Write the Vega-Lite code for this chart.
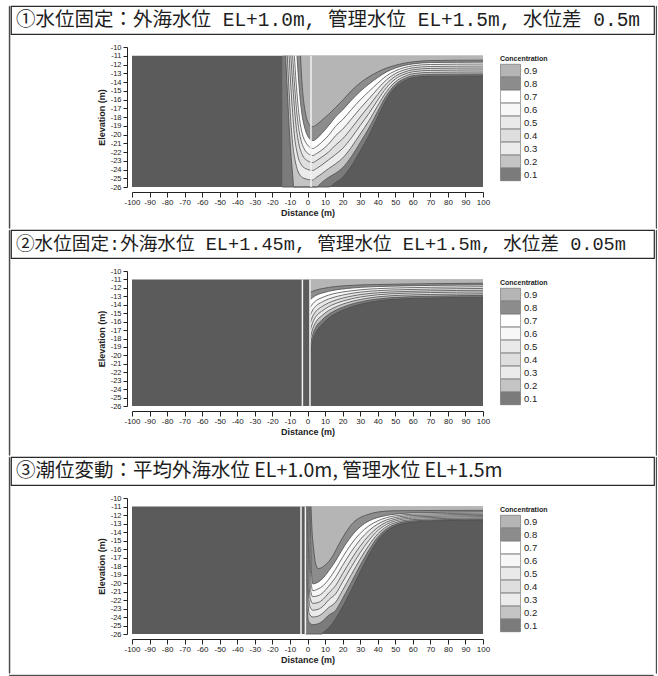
{
  "$schema": "https://vega.github.io/schema/vega-lite/v6.json",
  "padding": {"left": 8, "top": 5, "right": 0, "bottom": 0},
  "background": "white",
  "datasets": {
    "p1": [
      {"lev":"0.1","x":-14.4,"y":-26},{"lev":"0.1","x":3,"y":-26},{"lev":"0.1","x":8,"y":-26},{"lev":"0.1","x":12,"y":-26},{"lev":"0.1","x":16,"y":-25.5},{"lev":"0.1","x":20,"y":-24.9},{"lev":"0.1","x":25,"y":-23.6},{"lev":"0.1","x":30,"y":-21.9},{"lev":"0.1","x":35,"y":-20.1},{"lev":"0.1","x":40,"y":-18},{"lev":"0.1","x":45,"y":-16},{"lev":"0.1","x":50,"y":-14.6},{"lev":"0.1","x":55,"y":-13.9},{"lev":"0.1","x":60,"y":-13.5},{"lev":"0.1","x":70,"y":-13.35},{"lev":"0.1","x":100,"y":-13.3},
      {"lev":"0.2","x":-12.5,"y":-11},{"lev":"0.2","x":-11.5,"y":-15},{"lev":"0.2","x":-10.5,"y":-19},{"lev":"0.2","x":-9.5,"y":-22},{"lev":"0.2","x":-8.5,"y":-24.5},{"lev":"0.2","x":-7.8,"y":-26},{"lev":"0.2","x":3,"y":-26},{"lev":"0.2","x":5,"y":-26},{"lev":"0.2","x":8,"y":-25.5},{"lev":"0.2","x":12,"y":-24.9},{"lev":"0.2","x":16,"y":-24.43},{"lev":"0.2","x":20,"y":-23.8},{"lev":"0.2","x":25,"y":-22.53},{"lev":"0.2","x":30,"y":-20.93},{"lev":"0.2","x":35,"y":-19.26},{"lev":"0.2","x":40,"y":-17.36},{"lev":"0.2","x":45,"y":-15.55},{"lev":"0.2","x":50,"y":-14.29},{"lev":"0.2","x":55,"y":-13.64},{"lev":"0.2","x":60,"y":-13.28},{"lev":"0.2","x":70,"y":-13.13},{"lev":"0.2","x":100,"y":-13.08},
      {"lev":"0.3","x":-11.5,"y":-11},{"lev":"0.3","x":-10.5,"y":-15},{"lev":"0.3","x":-9.5,"y":-18.5},{"lev":"0.3","x":-8.5,"y":-21},{"lev":"0.3","x":-7,"y":-23},{"lev":"0.3","x":-5,"y":-24.4},{"lev":"0.3","x":-2,"y":-25},{"lev":"0.3","x":3,"y":-25.2},{"lev":"0.3","x":5,"y":-24.9},{"lev":"0.3","x":8,"y":-24.5},{"lev":"0.3","x":12,"y":-23.9},{"lev":"0.3","x":16,"y":-23.35},{"lev":"0.3","x":20,"y":-22.7},{"lev":"0.3","x":25,"y":-21.45},{"lev":"0.3","x":30,"y":-19.95},{"lev":"0.3","x":35,"y":-18.43},{"lev":"0.3","x":40,"y":-16.71},{"lev":"0.3","x":45,"y":-15.1},{"lev":"0.3","x":50,"y":-13.98},{"lev":"0.3","x":55,"y":-13.39},{"lev":"0.3","x":60,"y":-13.05},{"lev":"0.3","x":70,"y":-12.9},{"lev":"0.3","x":100,"y":-12.85},
      {"lev":"0.4","x":-10.5,"y":-11},{"lev":"0.4","x":-9.5,"y":-14.5},{"lev":"0.4","x":-8.5,"y":-17.5},{"lev":"0.4","x":-7.5,"y":-20},{"lev":"0.4","x":-6,"y":-22},{"lev":"0.4","x":-4,"y":-23.3},{"lev":"0.4","x":-1,"y":-23.9},{"lev":"0.4","x":3,"y":-24.1},{"lev":"0.4","x":5,"y":-23.9},{"lev":"0.4","x":8,"y":-23.5},{"lev":"0.4","x":12,"y":-22.9},{"lev":"0.4","x":16,"y":-22.28},{"lev":"0.4","x":20,"y":-21.6},{"lev":"0.4","x":25,"y":-20.38},{"lev":"0.4","x":30,"y":-18.98},{"lev":"0.4","x":35,"y":-17.59},{"lev":"0.4","x":40,"y":-16.07},{"lev":"0.4","x":45,"y":-14.65},{"lev":"0.4","x":50,"y":-13.66},{"lev":"0.4","x":55,"y":-13.13},{"lev":"0.4","x":60,"y":-12.83},{"lev":"0.4","x":70,"y":-12.68},{"lev":"0.4","x":100,"y":-12.63},
      {"lev":"0.5","x":-9.5,"y":-11},{"lev":"0.5","x":-8.5,"y":-14},{"lev":"0.5","x":-7.5,"y":-16.8},{"lev":"0.5","x":-6.5,"y":-19},{"lev":"0.5","x":-5,"y":-21},{"lev":"0.5","x":-3,"y":-22.3},{"lev":"0.5","x":0,"y":-23},{"lev":"0.5","x":3,"y":-23.2},{"lev":"0.5","x":5,"y":-23},{"lev":"0.5","x":8,"y":-22.6},{"lev":"0.5","x":12,"y":-22},{"lev":"0.5","x":16,"y":-21.2},{"lev":"0.5","x":20,"y":-20.5},{"lev":"0.5","x":25,"y":-19.3},{"lev":"0.5","x":30,"y":-18},{"lev":"0.5","x":35,"y":-16.75},{"lev":"0.5","x":40,"y":-15.43},{"lev":"0.5","x":45,"y":-14.2},{"lev":"0.5","x":50,"y":-13.35},{"lev":"0.5","x":55,"y":-12.88},{"lev":"0.5","x":60,"y":-12.6},{"lev":"0.5","x":70,"y":-12.45},{"lev":"0.5","x":100,"y":-12.4},
      {"lev":"0.6","x":-8.5,"y":-11},{"lev":"0.6","x":-7.5,"y":-14},{"lev":"0.6","x":-6.5,"y":-16.6},{"lev":"0.6","x":-5.5,"y":-18.6},{"lev":"0.6","x":-4,"y":-20.4},{"lev":"0.6","x":-2,"y":-21.6},{"lev":"0.6","x":0.5,"y":-22.2},{"lev":"0.6","x":3,"y":-22.4},{"lev":"0.6","x":5,"y":-22.2},{"lev":"0.6","x":8,"y":-21.8},{"lev":"0.6","x":12,"y":-21.1},{"lev":"0.6","x":16,"y":-20.13},{"lev":"0.6","x":20,"y":-19.4},{"lev":"0.6","x":25,"y":-18.23},{"lev":"0.6","x":30,"y":-17.03},{"lev":"0.6","x":35,"y":-15.91},{"lev":"0.6","x":40,"y":-14.78},{"lev":"0.6","x":45,"y":-13.75},{"lev":"0.6","x":50,"y":-13.04},{"lev":"0.6","x":55,"y":-12.62},{"lev":"0.6","x":60,"y":-12.38},{"lev":"0.6","x":70,"y":-12.23},{"lev":"0.6","x":100,"y":-12.18},
      {"lev":"0.7","x":-7.5,"y":-11},{"lev":"0.7","x":-6.5,"y":-14},{"lev":"0.7","x":-5.5,"y":-16.5},{"lev":"0.7","x":-4.5,"y":-18.3},{"lev":"0.7","x":-3,"y":-19.9},{"lev":"0.7","x":-1,"y":-20.9},{"lev":"0.7","x":1,"y":-21.4},{"lev":"0.7","x":3,"y":-21.6},{"lev":"0.7","x":5,"y":-21.4},{"lev":"0.7","x":8,"y":-20.9},{"lev":"0.7","x":12,"y":-20.1},{"lev":"0.7","x":16,"y":-19.05},{"lev":"0.7","x":20,"y":-18.3},{"lev":"0.7","x":25,"y":-17.15},{"lev":"0.7","x":30,"y":-16.05},{"lev":"0.7","x":35,"y":-15.08},{"lev":"0.7","x":40,"y":-14.14},{"lev":"0.7","x":45,"y":-13.3},{"lev":"0.7","x":50,"y":-12.73},{"lev":"0.7","x":55,"y":-12.36},{"lev":"0.7","x":60,"y":-12.15},{"lev":"0.7","x":70,"y":-12},{"lev":"0.7","x":100,"y":-11.95},
      {"lev":"0.8","x":-6,"y":-11},{"lev":"0.8","x":-5,"y":-14},{"lev":"0.8","x":-4,"y":-16.3},{"lev":"0.8","x":-3,"y":-17.9},{"lev":"0.8","x":-1.5,"y":-19.3},{"lev":"0.8","x":0.5,"y":-20.3},{"lev":"0.8","x":3,"y":-20.7},{"lev":"0.8","x":5,"y":-20.5},{"lev":"0.8","x":8,"y":-19.9},{"lev":"0.8","x":12,"y":-19},{"lev":"0.8","x":16,"y":-17.98},{"lev":"0.8","x":20,"y":-17.2},{"lev":"0.8","x":25,"y":-16.08},{"lev":"0.8","x":30,"y":-15.08},{"lev":"0.8","x":35,"y":-14.24},{"lev":"0.8","x":40,"y":-13.49},{"lev":"0.8","x":45,"y":-12.85},{"lev":"0.8","x":50,"y":-12.41},{"lev":"0.8","x":55,"y":-12.11},{"lev":"0.8","x":60,"y":-11.93},{"lev":"0.8","x":70,"y":-11.78},{"lev":"0.8","x":100,"y":-11.73},
      {"lev":"0.9","x":-4,"y":-11},{"lev":"0.9","x":-3,"y":-14.5},{"lev":"0.9","x":-2,"y":-16.5},{"lev":"0.9","x":-1,"y":-17.7},{"lev":"0.9","x":0.5,"y":-18.7},{"lev":"0.9","x":3,"y":-19.1},{"lev":"0.9","x":5,"y":-18.9},{"lev":"0.9","x":8,"y":-18.4},{"lev":"0.9","x":12,"y":-17.7},{"lev":"0.9","x":16,"y":-16.9},{"lev":"0.9","x":20,"y":-16.1},{"lev":"0.9","x":25,"y":-15},{"lev":"0.9","x":30,"y":-14.1},{"lev":"0.9","x":35,"y":-13.4},{"lev":"0.9","x":40,"y":-12.85},{"lev":"0.9","x":45,"y":-12.4},{"lev":"0.9","x":50,"y":-12.1},{"lev":"0.9","x":55,"y":-11.85},{"lev":"0.9","x":60,"y":-11.7},{"lev":"0.9","x":70,"y":-11.55},{"lev":"0.9","x":100,"y":-11.5}
    ],
    "p2": [
      {"lev":"0.1","x":1.5,"y":-19.8},{"lev":"0.1","x":3,"y":-18.3},{"lev":"0.1","x":5,"y":-17.2},{"lev":"0.1","x":8,"y":-16.4},{"lev":"0.1","x":12,"y":-15.6},{"lev":"0.1","x":17,"y":-14.95},{"lev":"0.1","x":23,"y":-14.4},{"lev":"0.1","x":30,"y":-13.95},{"lev":"0.1","x":40,"y":-13.55},{"lev":"0.1","x":55,"y":-13.3},{"lev":"0.1","x":70,"y":-13.2},{"lev":"0.1","x":100,"y":-13.1},
      {"lev":"0.2","x":1.5,"y":-18.89},{"lev":"0.2","x":3,"y":-17.56},{"lev":"0.2","x":5,"y":-16.58},{"lev":"0.2","x":8,"y":-15.86},{"lev":"0.2","x":12,"y":-15.14},{"lev":"0.2","x":17,"y":-14.56},{"lev":"0.2","x":23,"y":-14.07},{"lev":"0.2","x":30,"y":-13.66},{"lev":"0.2","x":40,"y":-13.31},{"lev":"0.2","x":55,"y":-13.08},{"lev":"0.2","x":70,"y":-12.99},{"lev":"0.2","x":100,"y":-12.89},
      {"lev":"0.3","x":1.5,"y":-17.98},{"lev":"0.3","x":3,"y":-16.83},{"lev":"0.3","x":5,"y":-15.96},{"lev":"0.3","x":8,"y":-15.33},{"lev":"0.3","x":12,"y":-14.69},{"lev":"0.3","x":17,"y":-14.17},{"lev":"0.3","x":23,"y":-13.73},{"lev":"0.3","x":30,"y":-13.38},{"lev":"0.3","x":40,"y":-13.06},{"lev":"0.3","x":55,"y":-12.86},{"lev":"0.3","x":70,"y":-12.78},{"lev":"0.3","x":100,"y":-12.69},
      {"lev":"0.4","x":1.5,"y":-17.06},{"lev":"0.4","x":3,"y":-16.09},{"lev":"0.4","x":5,"y":-15.34},{"lev":"0.4","x":8,"y":-14.79},{"lev":"0.4","x":12,"y":-14.23},{"lev":"0.4","x":17,"y":-13.78},{"lev":"0.4","x":23,"y":-13.4},{"lev":"0.4","x":30,"y":-13.09},{"lev":"0.4","x":40,"y":-12.82},{"lev":"0.4","x":55,"y":-12.64},{"lev":"0.4","x":70,"y":-12.56},{"lev":"0.4","x":100,"y":-12.48},
      {"lev":"0.5","x":1.5,"y":-16.15},{"lev":"0.5","x":3,"y":-15.35},{"lev":"0.5","x":5,"y":-14.73},{"lev":"0.5","x":8,"y":-14.25},{"lev":"0.5","x":12,"y":-13.78},{"lev":"0.5","x":17,"y":-13.39},{"lev":"0.5","x":23,"y":-13.07},{"lev":"0.5","x":30,"y":-12.8},{"lev":"0.5","x":40,"y":-12.58},{"lev":"0.5","x":55,"y":-12.43},{"lev":"0.5","x":70,"y":-12.35},{"lev":"0.5","x":100,"y":-12.28},
      {"lev":"0.6","x":1.5,"y":-15.24},{"lev":"0.6","x":3,"y":-14.61},{"lev":"0.6","x":5,"y":-14.11},{"lev":"0.6","x":8,"y":-13.71},{"lev":"0.6","x":12,"y":-13.32},{"lev":"0.6","x":17,"y":-13},{"lev":"0.6","x":23,"y":-12.73},{"lev":"0.6","x":30,"y":-12.51},{"lev":"0.6","x":40,"y":-12.33},{"lev":"0.6","x":55,"y":-12.21},{"lev":"0.6","x":70,"y":-12.14},{"lev":"0.6","x":100,"y":-12.07},
      {"lev":"0.7","x":1.5,"y":-14.33},{"lev":"0.7","x":3,"y":-13.88},{"lev":"0.7","x":5,"y":-13.49},{"lev":"0.7","x":8,"y":-13.18},{"lev":"0.7","x":12,"y":-12.86},{"lev":"0.7","x":17,"y":-12.6},{"lev":"0.7","x":23,"y":-12.4},{"lev":"0.7","x":30,"y":-12.23},{"lev":"0.7","x":40,"y":-12.09},{"lev":"0.7","x":55,"y":-11.99},{"lev":"0.7","x":70,"y":-11.93},{"lev":"0.7","x":100,"y":-11.86},
      {"lev":"0.8","x":1.5,"y":-13.41},{"lev":"0.8","x":3,"y":-13.14},{"lev":"0.8","x":5,"y":-12.87},{"lev":"0.8","x":8,"y":-12.64},{"lev":"0.8","x":12,"y":-12.41},{"lev":"0.8","x":17,"y":-12.21},{"lev":"0.8","x":23,"y":-12.06},{"lev":"0.8","x":30,"y":-11.94},{"lev":"0.8","x":40,"y":-11.84},{"lev":"0.8","x":55,"y":-11.77},{"lev":"0.8","x":70,"y":-11.71},{"lev":"0.8","x":100,"y":-11.66},
      {"lev":"0.9","x":1.5,"y":-12.5},{"lev":"0.9","x":3,"y":-12.4},{"lev":"0.9","x":5,"y":-12.25},{"lev":"0.9","x":8,"y":-12.1},{"lev":"0.9","x":12,"y":-11.95},{"lev":"0.9","x":17,"y":-11.82},{"lev":"0.9","x":23,"y":-11.73},{"lev":"0.9","x":30,"y":-11.65},{"lev":"0.9","x":40,"y":-11.6},{"lev":"0.9","x":55,"y":-11.55},{"lev":"0.9","x":70,"y":-11.5},{"lev":"0.9","x":100,"y":-11.45}
    ],
    "p3": [
      {"lev":"0.1","x":-1.2,"y":-26},{"lev":"0.1","x":8,"y":-26},{"lev":"0.1","x":9,"y":-25.8},{"lev":"0.1","x":12,"y":-25.3},{"lev":"0.1","x":16,"y":-24.2},{"lev":"0.1","x":20,"y":-22.8},{"lev":"0.1","x":25,"y":-20.8},{"lev":"0.1","x":30,"y":-18.7},{"lev":"0.1","x":35,"y":-16.7},{"lev":"0.1","x":40,"y":-15},{"lev":"0.1","x":45,"y":-13.9},{"lev":"0.1","x":50,"y":-13.3},{"lev":"0.1","x":60,"y":-12.85},{"lev":"0.1","x":70,"y":-12.7},{"lev":"0.1","x":100,"y":-12.6},
      {"lev":"0.2","x":-0.9,"y":-11},{"lev":"0.2","x":-0.6,"y":-18},{"lev":"0.2","x":-0.2,"y":-23},{"lev":"0.2","x":0.6,"y":-24.5},{"lev":"0.2","x":3,"y":-24.9},{"lev":"0.2","x":6,"y":-24.8},{"lev":"0.2","x":9,"y":-24.4},{"lev":"0.2","x":12,"y":-23.8},{"lev":"0.2","x":16,"y":-23.23},{"lev":"0.2","x":20,"y":-21.83},{"lev":"0.2","x":25,"y":-19.9},{"lev":"0.2","x":30,"y":-17.94},{"lev":"0.2","x":35,"y":-16.13},{"lev":"0.2","x":40,"y":-14.61},{"lev":"0.2","x":45,"y":-13.64},{"lev":"0.2","x":50,"y":-13.1},{"lev":"0.2","x":60,"y":-12.69},{"lev":"0.2","x":100,"y":-12.46},
      {"lev":"0.3","x":-0.5,"y":-11},{"lev":"0.3","x":-0.2,"y":-17.5},{"lev":"0.3","x":0.2,"y":-22},{"lev":"0.3","x":1,"y":-23.6},{"lev":"0.3","x":3,"y":-24},{"lev":"0.3","x":6,"y":-23.9},{"lev":"0.3","x":9,"y":-23.5},{"lev":"0.3","x":12,"y":-22.9},{"lev":"0.3","x":16,"y":-22.26},{"lev":"0.3","x":20,"y":-20.86},{"lev":"0.3","x":25,"y":-19},{"lev":"0.3","x":30,"y":-17.19},{"lev":"0.3","x":35,"y":-15.56},{"lev":"0.3","x":40,"y":-14.23},{"lev":"0.3","x":45,"y":-13.37},{"lev":"0.3","x":50,"y":-12.9},{"lev":"0.3","x":60,"y":-12.54},{"lev":"0.3","x":100,"y":-12.33},
      {"lev":"0.4","x":-0.1,"y":-11},{"lev":"0.4","x":0.2,"y":-17},{"lev":"0.4","x":0.6,"y":-21.3},{"lev":"0.4","x":1.4,"y":-22.8},{"lev":"0.4","x":3,"y":-23.2},{"lev":"0.4","x":6,"y":-23.1},{"lev":"0.4","x":9,"y":-22.7},{"lev":"0.4","x":12,"y":-22},{"lev":"0.4","x":16,"y":-21.28},{"lev":"0.4","x":20,"y":-19.88},{"lev":"0.4","x":25,"y":-18.1},{"lev":"0.4","x":30,"y":-16.43},{"lev":"0.4","x":35,"y":-14.99},{"lev":"0.4","x":40,"y":-13.84},{"lev":"0.4","x":45,"y":-13.11},{"lev":"0.4","x":50,"y":-12.7},{"lev":"0.4","x":60,"y":-12.38},{"lev":"0.4","x":100,"y":-12.19},
      {"lev":"0.5","x":0.3,"y":-11},{"lev":"0.5","x":0.6,"y":-16.5},{"lev":"0.5","x":1,"y":-20.5},{"lev":"0.5","x":1.7,"y":-21.9},{"lev":"0.5","x":3,"y":-22.4},{"lev":"0.5","x":6,"y":-22.3},{"lev":"0.5","x":9,"y":-21.9},{"lev":"0.5","x":12,"y":-21.2},{"lev":"0.5","x":16,"y":-20.31},{"lev":"0.5","x":20,"y":-18.91},{"lev":"0.5","x":25,"y":-17.2},{"lev":"0.5","x":30,"y":-15.67},{"lev":"0.5","x":35,"y":-14.41},{"lev":"0.5","x":40,"y":-13.46},{"lev":"0.5","x":45,"y":-12.84},{"lev":"0.5","x":50,"y":-12.5},{"lev":"0.5","x":60,"y":-12.22},{"lev":"0.5","x":100,"y":-12.06},
      {"lev":"0.6","x":0.7,"y":-11},{"lev":"0.6","x":1,"y":-16},{"lev":"0.6","x":1.4,"y":-19.5},{"lev":"0.6","x":2,"y":-21.1},{"lev":"0.6","x":3,"y":-21.6},{"lev":"0.6","x":6,"y":-21.5},{"lev":"0.6","x":9,"y":-21.1},{"lev":"0.6","x":12,"y":-20.4},{"lev":"0.6","x":16,"y":-19.34},{"lev":"0.6","x":20,"y":-17.94},{"lev":"0.6","x":25,"y":-16.3},{"lev":"0.6","x":30,"y":-14.91},{"lev":"0.6","x":35,"y":-13.84},{"lev":"0.6","x":40,"y":-13.07},{"lev":"0.6","x":45,"y":-12.58},{"lev":"0.6","x":50,"y":-12.3},{"lev":"0.6","x":60,"y":-12.06},{"lev":"0.6","x":100,"y":-11.92},
      {"lev":"0.7","x":1.1,"y":-11},{"lev":"0.7","x":1.4,"y":-15.5},{"lev":"0.7","x":1.8,"y":-19},{"lev":"0.7","x":2.4,"y":-20.5},{"lev":"0.7","x":3,"y":-20.9},{"lev":"0.7","x":6,"y":-20.7},{"lev":"0.7","x":9,"y":-20.3},{"lev":"0.7","x":12,"y":-19.6},{"lev":"0.7","x":16,"y":-18.37},{"lev":"0.7","x":20,"y":-16.97},{"lev":"0.7","x":25,"y":-15.4},{"lev":"0.7","x":30,"y":-14.16},{"lev":"0.7","x":35,"y":-13.27},{"lev":"0.7","x":40,"y":-12.69},{"lev":"0.7","x":45,"y":-12.31},{"lev":"0.7","x":50,"y":-12.1},{"lev":"0.7","x":60,"y":-11.91},{"lev":"0.7","x":100,"y":-11.79},
      {"lev":"0.8","x":1.5,"y":-11},{"lev":"0.8","x":1.8,"y":-15},{"lev":"0.8","x":2.2,"y":-18.5},{"lev":"0.8","x":3,"y":-20.1},{"lev":"0.8","x":6,"y":-19.9},{"lev":"0.8","x":9,"y":-19.4},{"lev":"0.8","x":12,"y":-18.6},{"lev":"0.8","x":16,"y":-17.4},{"lev":"0.8","x":20,"y":-16},{"lev":"0.8","x":25,"y":-14.5},{"lev":"0.8","x":30,"y":-13.4},{"lev":"0.8","x":35,"y":-12.7},{"lev":"0.8","x":40,"y":-12.3},{"lev":"0.8","x":45,"y":-12.05},{"lev":"0.8","x":50,"y":-11.9},{"lev":"0.8","x":60,"y":-11.75},{"lev":"0.8","x":100,"y":-11.65},
      {"lev":"0.9","x":2,"y":-11},{"lev":"0.9","x":2.5,"y":-13.5},{"lev":"0.9","x":3.5,"y":-16},{"lev":"0.9","x":4.5,"y":-17.6},{"lev":"0.9","x":6,"y":-18.3},{"lev":"0.9","x":8,"y":-18.2},{"lev":"0.9","x":10,"y":-17.9},{"lev":"0.9","x":12,"y":-17.5},{"lev":"0.9","x":15,"y":-16.6},{"lev":"0.9","x":18,"y":-15.4},{"lev":"0.9","x":22,"y":-14},{"lev":"0.9","x":26,"y":-12.9},{"lev":"0.9","x":30,"y":-12.3},{"lev":"0.9","x":35,"y":-11.9},{"lev":"0.9","x":40,"y":-11.65},{"lev":"0.9","x":50,"y":-11.5},{"lev":"0.9","x":100,"y":-11.45}
    ],
    "walls": [{"p":1,"x":2,"y":-11,"y2":-26},{"p":2,"x":-2.9,"y":-11,"y2":-26},{"p":2,"x":1.4,"y":-11,"y2":-26},{"p":3,"x":-3.7,"y":-11,"y2":-26},{"p":3,"x":-1.2,"y":-11,"y2":-26}],
    "domainbox": [{"x":-100,"x2":100,"y":-11,"y2":-26}]
  },
  "resolve": {"scale": {"color": "independent", "x": "independent", "y": "independent"}, "legend": {"color": "independent"}},
  "spacing": 0,
  "vconcat": [
    {
      "spacing": 0,
      "resolve": {"scale": {"color": "independent"}, "legend": {"color": "independent"}},
      "hconcat": [
        {"width": 0.5, "height": 222, "view": {"stroke": "#2a2a2a", "strokeWidth": 0.8}, "data": {"values": [{}]}, "mark": {"type": "point", "opacity": 0, "size": 0}},
        {
          "spacing": 8,
          "resolve": {"scale": {"color": "independent"}, "legend": {"color": "independent"}},
          "vconcat": [
            {"width": 643, "height": 28, "view": {"stroke": "#2a2a2a", "strokeWidth": 1.2},
             "data": {"values": [{"t": "①水位固定：外海水位 EL+1.0m, 管理水位 EL+1.5m, 水位差 0.5m"}]},
             "mark": {"type": "text", "align": "left", "baseline": "middle", "x": 5, "y": 14, "fontSize": 19.5, "font": "Liberation Mono, Noto Sans CJK JP", "color": "#1e1e1e"},
             "encoding": {"text": {"field": "t"}}},
            {"spacing": 0, "hconcat": [
              {"width": 86, "height": 10, "view": {"stroke": null}, "data": {"values": [{}]}, "mark": {"type": "point", "opacity": 0, "size": 0}},
              {"width": 351, "height": 140, "view": {"stroke": null},
               "encoding": {
                 "x": {"field": "x", "type": "quantitative", "scale": {"domain": [-100, 100], "nice": false}, "axis": {"title": "Distance (m)", "values": [-100,-90,-80,-70,-60,-50,-40,-30,-20,-10,0,10,20,30,40,50,60,70,80,90,100]}},
                 "y": {"field": "y", "type": "quantitative", "stack": null, "scale": {"domain": [-26, -10], "nice": false, "zero": false}, "axis": {"title": "Elevation (m)", "values": [-26,-25,-24,-23,-22,-21,-20,-19,-18,-17,-16,-15,-14,-13,-12,-11,-10]}}
               },
               "layer": [
                 {"data": {"name": "domainbox"}, "mark": {"type": "rect", "color": "#5b5b5b"}, "encoding": {"x2": {"field": "x2"}, "y2": {"field": "y2"}}},
                 {"data": {"name": "p1"}, "mark": {"type": "area", "interpolate": "monotone"},
                  "encoding": {
                    "y2": {"datum": -11},
                    "color": {"field": "lev", "type": "ordinal",
                      "scale": {"domain": ["0.9","0.8","0.7","0.6","0.5","0.4","0.3","0.2","0.1","0.0"], "range": ["#b5b5b5","#8c8c8c","#ffffff","#f7f7f7","#e9e9e9","#dedede","#ebebeb","#c4c4c4","#7b7b7b","#5b5b5b"]},
                      "legend": {"values": ["0.9","0.8","0.7","0.6","0.5","0.4","0.3","0.2","0.1"], "title": "Concentration", "rowPadding": -2.4}}}},
                 {"data": {"name": "p1"}, "mark": {"type": "line", "interpolate": "monotone", "stroke": "#4d4d4d", "strokeWidth": 0.8}, "encoding": {"detail": {"field": "lev"}}},
                 {"data": {"name": "walls"}, "transform": [{"filter": "datum.p == 1"}], "mark": {"type": "rule", "stroke": "#f2f2f2", "strokeWidth": 1.5}, "encoding": {"y2": {"field": "y2"}}}
               ]}
            ]}
          ]
        },
        {"width": 0.5, "height": 222, "view": {"stroke": "#2a2a2a", "strokeWidth": 0.8}, "data": {"values": [{}]}, "mark": {"type": "point", "opacity": 0, "size": 0}}
      ]
    },
    {
      "spacing": 0,
      "resolve": {"scale": {"color": "independent"}, "legend": {"color": "independent"}},
      "hconcat": [
        {"width": 0.5, "height": 225, "view": {"stroke": "#2a2a2a", "strokeWidth": 0.8}, "data": {"values": [{}]}, "mark": {"type": "point", "opacity": 0, "size": 0}},
        {
          "spacing": 8,
          "resolve": {"scale": {"color": "independent"}, "legend": {"color": "independent"}},
          "vconcat": [
            {"width": 643, "height": 28, "view": {"stroke": "#2a2a2a", "strokeWidth": 1.2},
             "data": {"values": [{"t": "②水位固定:外海水位 EL+1.45m, 管理水位 EL+1.5m, 水位差 0.05m"}]},
             "mark": {"type": "text", "align": "left", "baseline": "middle", "x": 5, "y": 14, "fontSize": 18.6, "font": "Liberation Mono, Noto Sans CJK JP", "color": "#1e1e1e"},
             "encoding": {"text": {"field": "t"}}},
            {"spacing": 0, "hconcat": [
              {"width": 86, "height": 10, "view": {"stroke": null}, "data": {"values": [{}]}, "mark": {"type": "point", "opacity": 0, "size": 0}},
              {"width": 351, "height": 135, "view": {"stroke": null},
               "encoding": {
                 "x": {"field": "x", "type": "quantitative", "scale": {"domain": [-100, 100], "nice": false}, "axis": {"title": "Distance (m)", "values": [-100,-90,-80,-70,-60,-50,-40,-30,-20,-10,0,10,20,30,40,50,60,70,80,90,100]}},
                 "y": {"field": "y", "type": "quantitative", "stack": null, "scale": {"domain": [-26, -10], "nice": false, "zero": false}, "axis": {"title": "Elevation (m)", "values": [-26,-25,-24,-23,-22,-21,-20,-19,-18,-17,-16,-15,-14,-13,-12,-11,-10]}}
               },
               "layer": [
                 {"data": {"name": "domainbox"}, "mark": {"type": "rect", "color": "#5b5b5b"}, "encoding": {"x2": {"field": "x2"}, "y2": {"field": "y2"}}},
                 {"data": {"name": "p2"}, "mark": {"type": "area", "interpolate": "monotone"},
                  "encoding": {
                    "y2": {"datum": -11},
                    "color": {"field": "lev", "type": "ordinal",
                      "scale": {"domain": ["0.9","0.8","0.7","0.6","0.5","0.4","0.3","0.2","0.1","0.0"], "range": ["#b5b5b5","#8c8c8c","#ffffff","#f7f7f7","#e9e9e9","#dedede","#ebebeb","#c4c4c4","#7b7b7b","#5b5b5b"]},
                      "legend": {"values": ["0.9","0.8","0.7","0.6","0.5","0.4","0.3","0.2","0.1"], "title": "Concentration", "rowPadding": -2.4}}}},
                 {"data": {"name": "p2"}, "mark": {"type": "line", "interpolate": "monotone", "stroke": "#4d4d4d", "strokeWidth": 0.8}, "encoding": {"detail": {"field": "lev"}}},
                 {"data": {"name": "walls"}, "transform": [{"filter": "datum.p == 2"}], "mark": {"type": "rule", "stroke": "#f2f2f2", "strokeWidth": 1.5}, "encoding": {"y2": {"field": "y2"}}}
               ]}
            ]}
          ]
        },
        {"width": 0.5, "height": 225, "view": {"stroke": "#2a2a2a", "strokeWidth": 0.8}, "data": {"values": [{}]}, "mark": {"type": "point", "opacity": 0, "size": 0}}
      ]
    },
    {
      "spacing": 0,
      "resolve": {"scale": {"color": "independent"}, "legend": {"color": "independent"}},
      "hconcat": [
        {"width": 0.5, "height": 216, "view": {"stroke": "#2a2a2a", "strokeWidth": 0.8}, "data": {"values": [{}]}, "mark": {"type": "point", "opacity": 0, "size": 0}},
        {
          "spacing": 8,
          "resolve": {"scale": {"color": "independent"}, "legend": {"color": "independent"}},
          "vconcat": [
            {"width": 643, "height": 28, "view": {"stroke": "#2a2a2a", "strokeWidth": 1.2},
             "data": {"values": [{"t": "③潮位変動：平均外海水位 EL+1.0m, 管理水位 EL+1.5m"}]},
             "mark": {"type": "text", "align": "left", "baseline": "middle", "x": 5, "y": 14, "fontSize": 19.5, "font": "Noto Sans CJK JP", "color": "#1e1e1e"},
             "encoding": {"text": {"field": "t"}}},
            {"spacing": 0, "hconcat": [
              {"width": 86, "height": 10, "view": {"stroke": null}, "data": {"values": [{}]}, "mark": {"type": "point", "opacity": 0, "size": 0}},
              {"width": 351, "height": 136, "view": {"stroke": null},
               "encoding": {
                 "x": {"field": "x", "type": "quantitative", "scale": {"domain": [-100, 100], "nice": false}, "axis": {"title": "Distance (m)", "values": [-100,-90,-80,-70,-60,-50,-40,-30,-20,-10,0,10,20,30,40,50,60,70,80,90,100]}},
                 "y": {"field": "y", "type": "quantitative", "stack": null, "scale": {"domain": [-26, -10], "nice": false, "zero": false}, "axis": {"title": "Elevation (m)", "values": [-26,-25,-24,-23,-22,-21,-20,-19,-18,-17,-16,-15,-14,-13,-12,-11,-10]}}
               },
               "layer": [
                 {"data": {"name": "domainbox"}, "mark": {"type": "rect", "color": "#5b5b5b"}, "encoding": {"x2": {"field": "x2"}, "y2": {"field": "y2"}}},
                 {"data": {"name": "p3"}, "mark": {"type": "area", "interpolate": "monotone"},
                  "encoding": {
                    "y2": {"datum": -11},
                    "color": {"field": "lev", "type": "ordinal",
                      "scale": {"domain": ["0.9","0.8","0.7","0.6","0.5","0.4","0.3","0.2","0.1","0.0"], "range": ["#b5b5b5","#8c8c8c","#ffffff","#f7f7f7","#e9e9e9","#dedede","#ebebeb","#c4c4c4","#7b7b7b","#5b5b5b"]},
                      "legend": {"values": ["0.9","0.8","0.7","0.6","0.5","0.4","0.3","0.2","0.1"], "title": "Concentration", "rowPadding": -2.4}}}},
                 {"data": {"name": "p3"}, "mark": {"type": "line", "interpolate": "monotone", "stroke": "#4d4d4d", "strokeWidth": 0.8}, "encoding": {"detail": {"field": "lev"}}},
                 {"data": {"name": "walls"}, "transform": [{"filter": "datum.p == 3"}], "mark": {"type": "rule", "stroke": "#f2f2f2", "strokeWidth": 1.5}, "encoding": {"y2": {"field": "y2"}}}
               ]}
            ]}
          ]
        },
        {"width": 0.5, "height": 216, "view": {"stroke": "#2a2a2a", "strokeWidth": 0.8}, "data": {"values": [{}]}, "mark": {"type": "point", "opacity": 0, "size": 0}}
      ]
    },
    {"width": 644, "height": 0.5, "view": {"stroke": "#2a2a2a", "strokeWidth": 0.8}, "data": {"values": [{}]}, "mark": {"type": "point", "opacity": 0, "size": 0}}
  ],
  "config": {
    "font": "Liberation Sans",
    "view": {"stroke": null},
    "axis": {"grid": false, "domainColor": "#222", "tickColor": "#222", "labelColor": "#222", "titleColor": "#222", "labelFont": "Liberation Sans", "titleFont": "Liberation Sans", "titleFontWeight": "bold", "titleFontSize": 9, "labelFontSize": 8, "labelOverlap": false, "labelFlush": false, "offset": 5, "domainWidth": 1, "tickWidth": 1, "labelExpr": "replace(datum.label, '−', '-')"},
    "axisX": {"tickSize": 5, "labelPadding": 1, "titlePadding": 2},
    "axisY": {"tickSize": 4, "labelPadding": 2, "titlePadding": 4, "labelFontSize": 7.5},
    "legend": {"orient": "right", "offset": 2, "padding": 8, "titleFontSize": 7, "titleFont": "Liberation Sans", "titleFontWeight": "bold", "titlePadding": 3, "titleColor": "#222", "labelFontSize": 9.5, "labelFont": "Liberation Sans", "labelColor": "#222", "labelOffset": 13, "rowPadding": -2.4, "symbolType": "M-1,-1.25H3V1.25H-1Z", "symbolSize": 100, "symbolStrokeColor": "#555", "symbolStrokeWidth": 0.5, "symbolOpacity": 1}
  }
}
